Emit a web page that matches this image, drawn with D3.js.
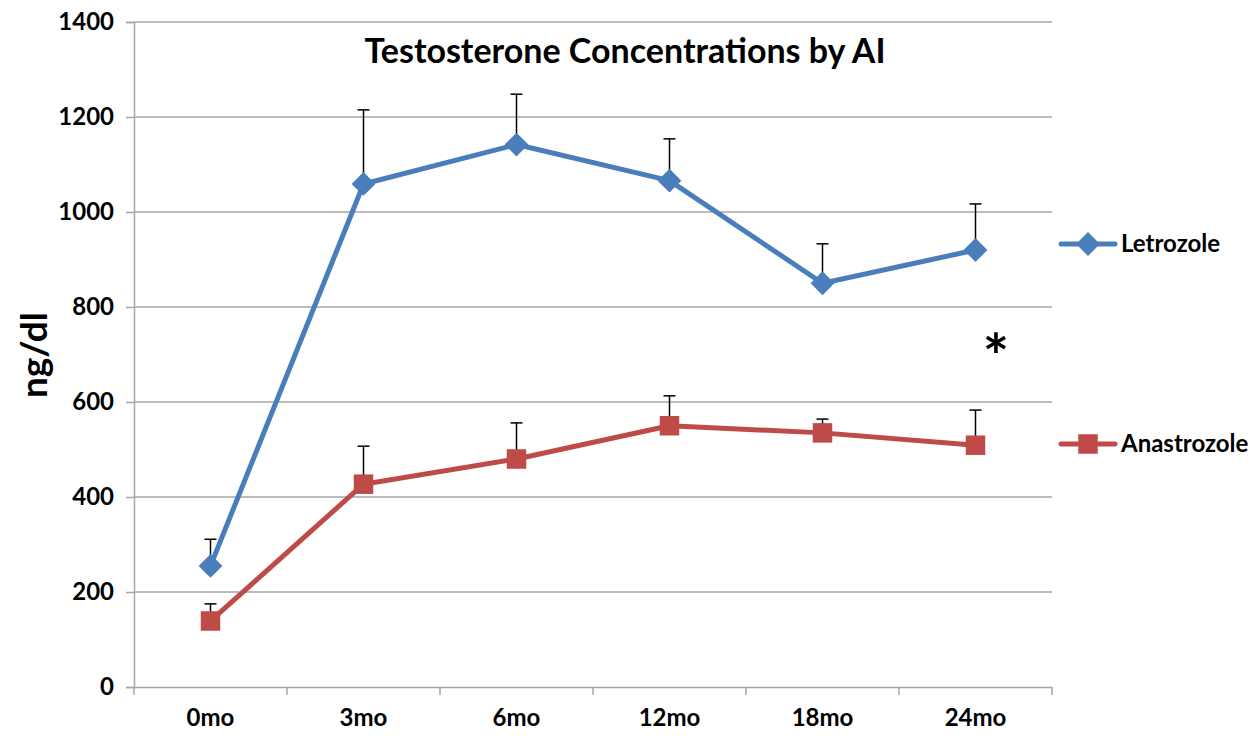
<!DOCTYPE html>
<html>
<head>
<meta charset="utf-8">
<script src="https://cdn.jsdelivr.net/npm/d3@7"></script>
<style>
  body { margin: 0; background: #fff; }
  text { font-family: Lato, "Liberation Sans", sans-serif; font-weight: bold; fill: #000; }
</style>
</head>
<body>
<div id="chart"></div>
<script>
// data
var months = ["0mo", "3mo", "6mo", "12mo", "18mo", "24mo"];
var letrozole = [255, 1059, 1142, 1066, 850, 920];
var letrozoleErr = [56, 156, 106, 88, 83, 97];
var anastrozole = [139, 427, 480, 550, 535, 509];
var anastrozoleErr = [36, 80, 76, 63, 29, 74];
var yTicks = [0, 200, 400, 600, 800, 1000, 1200, 1400];

var W = 1258, H = 741;
var margin = {top: 22, right: 206, bottom: 54, left: 134},
    width = W - margin.left - margin.right,
    height = H - margin.top - margin.bottom;

var svg = d3.select("#chart").append("svg")
    .attr("width", W)
    .attr("height", H);

var g = svg.append("g")
    .attr("transform", "translate(" + margin.left + "," + margin.top + ")");

var x = d3.scaleBand().domain(months).range([0, width]);
var y = d3.scaleLinear().domain([0, 1400]).range([height, 0]);
var cx = function(i) { return x(months[i]) + x.bandwidth() / 2; };

// gridlines
g.selectAll(".grid").data(yTicks.slice(1)).enter().append("line")
    .attr("x1", 0).attr("x2", width)
    .attr("y1", function(d) { return y(d); })
    .attr("y2", function(d) { return y(d); })
    .attr("stroke", "#a6a6a6").attr("stroke-width", 1.5);

// y axis
var yAxis = g.append("g")
    .call(d3.axisLeft(y).tickValues(yTicks).tickFormat(d3.format("d")).tickSize(8).tickPadding(12));
yAxis.select(".domain").attr("stroke", "#a6a6a6").attr("stroke-width", 1.5);
yAxis.selectAll(".tick line").attr("stroke", "#a6a6a6").attr("stroke-width", 1.5);
yAxis.selectAll("text").style("font-size", "24px");

// x axis
var xAxis = g.append("g")
    .attr("transform", "translate(0," + height + ")")
    .call(d3.axisBottom(x).tickSize(0).tickPadding(22));
xAxis.select(".domain").attr("stroke", "#a6a6a6").attr("stroke-width", 1.5);
xAxis.selectAll("text").style("font-size", "24px");
// tick marks between categories
g.selectAll(".xt").data(d3.range(months.length + 1)).enter().append("line")
    .attr("x1", function(i) { return i * x.bandwidth(); })
    .attr("x2", function(i) { return i * x.bandwidth(); })
    .attr("y1", height).attr("y2", height + 8)
    .attr("stroke", "#a6a6a6").attr("stroke-width", 1.5);

var series = [
  {name: "Letrozole", values: letrozole, err: letrozoleErr, color: "#4a7ebb", shape: "diamond", legendY: 244},
  {name: "Anastrozole", values: anastrozole, err: anastrozoleErr, color: "#be4b48", shape: "square", legendY: 444}
];

var line = d3.line()
    .x(function(d, i) { return cx(i); })
    .y(function(d) { return y(d); });

series.forEach(function(s) {
  // error bars (upper only)
  s.values.forEach(function(v, i) {
    var top = y(v + s.err[i]);
    g.append("line").attr("x1", cx(i)).attr("x2", cx(i))
        .attr("y1", y(v)).attr("y2", top)
        .attr("stroke", "#000").attr("stroke-width", 1.5);
    g.append("line").attr("x1", cx(i) - 6).attr("x2", cx(i) + 6)
        .attr("y1", top).attr("y2", top)
        .attr("stroke", "#000").attr("stroke-width", 1.5);
  });

  g.append("path")
      .datum(s.values)
      .attr("fill", "none")
      .attr("stroke", s.color)
      .attr("stroke-width", 5)
      .attr("stroke-linejoin", "round")
      .attr("d", line);

  var sym = s.shape === "diamond"
      ? d3.symbol().type(d3.symbolDiamond2).size(360)
      : d3.symbol().type(d3.symbolSquare).size(380);

  g.selectAll(".m-" + s.shape).data(s.values).enter().append("path")
      .attr("d", sym)
      .attr("transform", function(d, i) { return "translate(" + cx(i) + "," + y(d) + ")"; })
      .attr("fill", s.color);

  // legend
  var lg = svg.append("g").attr("transform", "translate(1061," + s.legendY + ")");
  lg.append("line").attr("x1", 0).attr("x2", 54).attr("y1", 0).attr("y2", 0)
      .attr("stroke", s.color).attr("stroke-width", 5).attr("stroke-linecap", "round");
  lg.append("path").attr("d", sym).attr("transform", "translate(27,0)").attr("fill", s.color);
  lg.append("text").attr("x", 60).attr("y", 0).attr("dy", "0.35em")
      .style("font-size", "24px").text(s.name);
});

// title
svg.append("text")
    .attr("x", 625).attr("y", 63)
    .attr("text-anchor", "middle")
    .style("font-size", "34px")
    .text("Testosterone Concentrations by AI");

// y label
svg.append("text")
    .attr("transform", "translate(47,355) rotate(-90)")
    .attr("text-anchor", "middle")
    .style("font-size", "37px")
    .text("ng/dl");

// significance mark
svg.append("text")
    .attr("x", 996).attr("y", 379)
    .attr("text-anchor", "middle")
    .style("font-size", "62px")
    .text("*");
</script>
</body>
</html>
